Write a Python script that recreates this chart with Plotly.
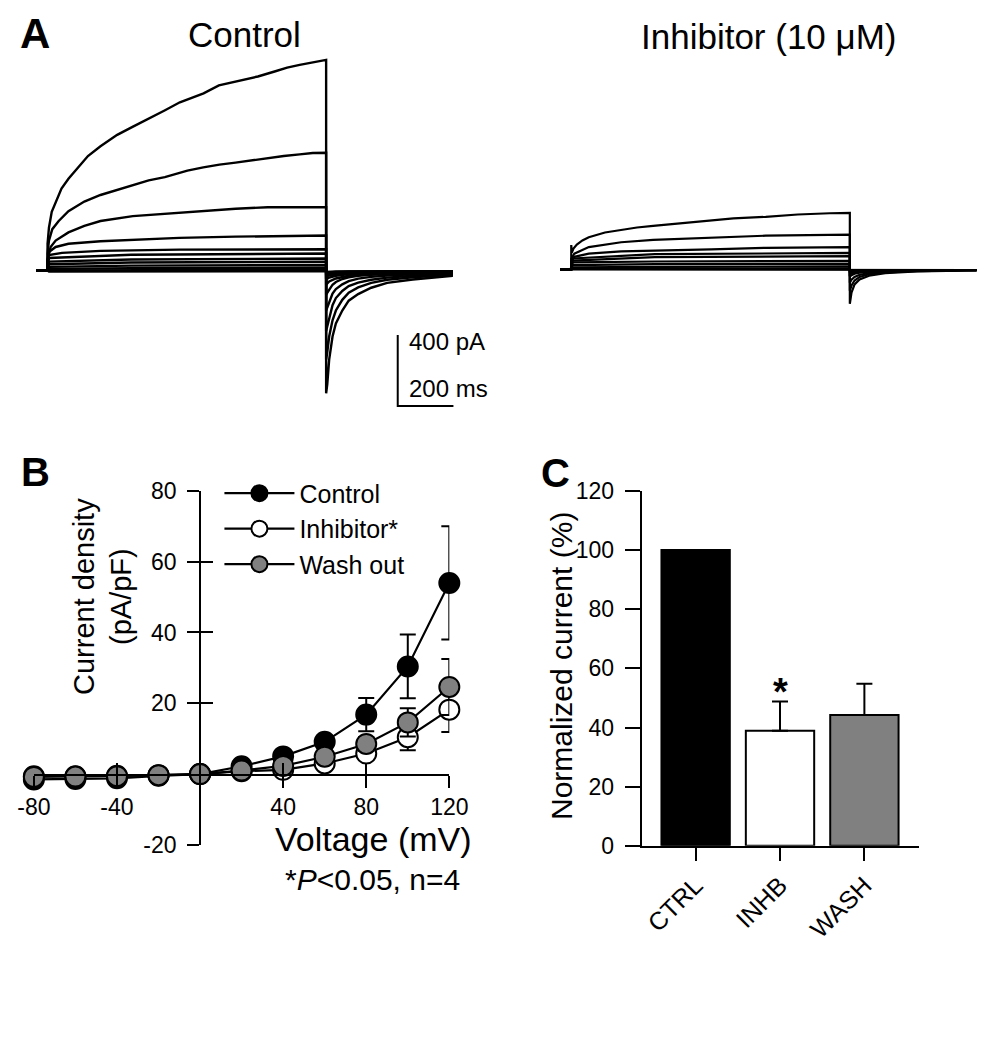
import plotly.graph_objects as go

FONT = "Arial, 'Liberation Sans', Helvetica, sans-serif"
W, H = 998, 1050

# ---------------- Panel A : current traces (t in ms, I in pA) ----------------
HOLD_T = [-40, 0]
HOLD_I = [0, 0]

CTRL1_T = [0, 0, 5, 15, 30, 50, 75, 110, 145, 190, 250, 305, 365, 420, 475, 515, 560, 615, 675, 755, 815, 860, 905, 950, 1000]
CTRL1_I = [0, 150, 240, 330, 387, 460, 515, 579, 643, 698, 762, 807, 853, 899, 945, 970, 995, 1040, 1063, 1090, 1118, 1140, 1155, 1169, 1183]
CTRL2_T = [0, 0, 5, 17, 40, 75, 132, 190, 248, 306, 363, 421, 473, 502, 559, 617, 675, 721, 790, 848, 905, 952, 1000]
CTRL2_I = [0, 95, 168, 232, 278, 333, 387, 424, 451, 479, 506, 524, 545, 561, 579, 595, 606, 616, 632, 643, 652, 660, 661]
CTRL3_T = [0, 0, 11, 29, 75, 132, 190, 306, 421, 473, 559, 675, 790, 905, 1000]
CTRL3_I = [0, 59, 132, 168, 214, 250, 278, 305, 318, 325, 333, 347, 355, 355, 355]
CTRL4_T = [0, 0, 5, 29, 75, 190, 306, 473, 675, 1000]
CTRL4_I = [0, 60, 104, 132, 150, 164, 172, 183, 190, 196]
CTRL5_T = [0, 0, 5, 52, 190, 473, 1000]
CTRL5_I = [0, 50, 86, 99, 110, 117, 119]
SMALL_T = [0, 5, 300, 1000]
CTRL_SMALL_I = [[0, 70, 88, 95], [0, 50, 62, 67], [0, 35, 45, 49], [0, 20, 27, 30],
                [0, 8, 13, 15], [0, 0, 3, 4], [0, -6, -5, -5]]

TAIL_T = [1000, 1004, 1011, 1023, 1035, 1058, 1081, 1115, 1162, 1219, 1311, 1424, 1455]
CTRL_TAIL1 = [-690, -640, -499, -371, -298, -225, -170, -133, -97, -70, -51, -33, -30]
CTRL_TAIL2 = [-500, -460, -370, -280, -225, -165, -125, -95, -70, -52, -38, -27, -25]
CTRL_TAIL3 = [-340, -315, -260, -195, -155, -115, -88, -68, -52, -40, -30, -22, -20]
CTRL_TAIL4 = [-225, -210, -175, -130, -105, -78, -60, -46, -36, -28, -22, -17, -16]
CTRL_TAIL5 = [-135, -125, -105, -80, -65, -48, -38, -30, -24, -19, -15, -12, -12]
SMALL_TAIL_T = [1000, 1011, 1035, 1081, 1162, 1311, 1455]
CTRL_SMALL_TAIL = [[-80, -62, -45, -30, -20, -13, -10], [-50, -40, -30, -20, -14, -10, -8],
                   [-35, -28, -22, -15, -11, -8, -7], [-25, -20, -15, -11, -8, -6, -5],
                   [-18, -15, -11, -8, -6, -5, -4], [-12, -10, -8, -6, -5, -4, -4],
                   [-8, -7, -6, -5, -4, -4, -4]]

INH1_T = [0, 0, 2, 8, 20, 40, 63, 121, 179, 236, 294, 352, 409, 502, 582, 698, 813, 928, 1000]
INH1_I = [0, 137, 95, 118, 140, 163, 181, 208, 223, 236, 245, 254, 263, 276, 287, 296, 309, 316, 318]
INH2_T = [0, 0, 11, 63, 179, 294, 467, 698, 1000]
INH2_I = [0, 60, 89, 126, 153, 166, 177, 190, 196]
INH3_T = [0, 0, 11, 63, 179, 502, 698, 1000]
INH3_I = [0, 45, 71, 89, 102, 113, 122, 126]
INH_SMALL_I = [[0, 62, 86, 93], [0, 50, 70, 75], [0, 40, 45, 48], [0, 25, 30, 32],
               [0, 12, 15, 17], [0, 3, 5, 6], [0, -3, -3, -3]]
INH_TAIL_T = [1000, 1006, 1017, 1035, 1069, 1127, 1241, 1414, 1455]
INH_TAIL1 = [-193, -130, -84, -56, -35, -20, -11, -5, -5]
INH_TAIL2 = [-120, -90, -62, -42, -27, -16, -9, -5, -5]
INH_TAIL3 = [-75, -58, -42, -30, -20, -12, -7, -4, -4]
INH_SMALL_TAIL = [[-40, -32, -24, -18, -12, -8, -5, -4, -4], [-25, -20, -16, -12, -9, -6, -4, -3, -3],
                  [-12, -10, -8, -7, -5, -4, -3, -3, -3], [-6, -5, -4, -4, -3, -3, -3, -3, -3],
                  [-4, -4, -3, -3, -3, -3, -3, -3, -3], [-3, -3, -3, -3, -3, -3, -3, -3, -3],
                  [-3, -3, -3, -3, -3, -3, -3, -3, -3]]

SCALE_T = 200   # ms
SCALE_I = 400   # pA

# ---------------- Panel B : I-V relationship ----------------
VOLT = [-80, -60, -40, -20, 0, 20, 40, 60, 80, 100, 120]
IV_CTRL = [-1.5, -1.4, -1.2, -0.5, 0, 2.2, 5.0, 9.1, 16.8, 30.4, 54.0]
IV_CTRL_SEM = [0.5, 0.5, 0.5, 0.3, 0, 0.5, 1.0, 1.8, 4.7, 9.0, 16.0]
IV_INH = [-0.6, -0.6, -0.5, -0.3, 0, 0.8, 1.2, 3.0, 5.8, 10.4, 18.2]
IV_INH_SEM = [0.3, 0.3, 0.3, 0.2, 0, 0.3, 0.5, 0.8, 1.8, 3.7, 6.3]
IV_WASH = [-0.8, -0.7, -0.6, -0.3, 0, 1.0, 2.3, 4.9, 8.5, 14.6, 24.6]
IV_WASH_SEM = [0.4, 0.4, 0.3, 0.2, 0, 0.3, 0.6, 1.0, 2.0, 4.0, 7.9]
B_XTICKS = [-80, -40, 40, 80, 120]
B_YTICKS = [-20, 20, 40, 60, 80]

# ---------------- Panel C : normalized current ----------------
CATS = ["CTRL", "INHB", "WASH"]
NORM = [100, 38.9, 44.2]
NORM_ERR = [0, 9.9, 10.6]

GRAY = "#808080"


def fx(p):
    return p / W


def fy(p):
    return 1 - p / H


fig = go.Figure()


def add_sweep(t, i, xa, ya, width=2.4):
    fig.add_trace(go.Scatter(x=t, y=i, mode="lines", line=dict(color="black", width=width),
                             xaxis=xa, yaxis=ya, showlegend=False, hoverinfo="skip"))


ctrl_big = [(CTRL1_T, CTRL1_I, CTRL_TAIL1), (CTRL2_T, CTRL2_I, CTRL_TAIL2),
            (CTRL3_T, CTRL3_I, CTRL_TAIL3), (CTRL4_T, CTRL4_I, CTRL_TAIL4),
            (CTRL5_T, CTRL5_I, CTRL_TAIL5)]
for st, si, tl in ctrl_big:
    add_sweep(HOLD_T + st + TAIL_T, HOLD_I + si + tl, "x", "y")
for si, tl in zip(CTRL_SMALL_I, CTRL_SMALL_TAIL):
    add_sweep(HOLD_T + SMALL_T + SMALL_TAIL_T, HOLD_I + si + tl, "x", "y")

SB_T0, SB_I0 = 1257, -762
fig.add_trace(go.Scatter(x=[SB_T0, SB_T0, SB_T0 + SCALE_T], y=[SB_I0 + SCALE_I, SB_I0, SB_I0],
                         mode="lines", line=dict(color="black", width=2), xaxis="x", yaxis="y",
                         showlegend=False, hoverinfo="skip"))

inh_big = [(INH1_T, INH1_I, INH_TAIL1), (INH2_T, INH2_I, INH_TAIL2), (INH3_T, INH3_I, INH_TAIL3)]
for st, si, tl in inh_big:
    add_sweep(HOLD_T + st + INH_TAIL_T, HOLD_I + si + tl, "x2", "y2", 2.2)
for si, tl in zip(INH_SMALL_I, INH_SMALL_TAIL):
    add_sweep(HOLD_T + SMALL_T + INH_TAIL_T, HOLD_I + si + tl, "x2", "y2", 2.2)

series = [("Control", IV_CTRL, IV_CTRL_SEM, "black"),
          ("Inhibitor*", IV_INH, IV_INH_SEM, "white"),
          ("Wash out", IV_WASH, IV_WASH_SEM, GRAY)]
for name, yv, ev, col in series:
    fig.add_trace(go.Scatter(
        x=VOLT, y=yv, name=name, mode="lines+markers", xaxis="x3", yaxis="y3",
        line=dict(color="black", width=2.2),
        marker=dict(size=20, color=col, line=dict(color="black", width=2)),
        error_y=dict(type="data", array=ev, color="black", thickness=2, width=8),
        cliponaxis=False))
fig.add_trace(go.Scatter(x=[None], y=[None], xaxis="x4", yaxis="y4", showlegend=False, hoverinfo="skip"))

fig.add_trace(go.Bar(
    x=CATS, y=NORM, xaxis="x5", yaxis="y5", width=0.81, showlegend=False,
    marker=dict(color=["black", "white", GRAY], line=dict(color="black", width=2)),
    error_y=dict(type="data", symmetric=False, array=NORM_ERR, arrayminus=[0, 0, 0],
                 color="black", thickness=2, width=8)))

tickfont = dict(family=FONT, size=23, color="black")
ms_px, pa_px = 0.289, 0.1825

layout = dict(
    width=W, height=H, margin=dict(l=0, r=0, t=0, b=0),
    paper_bgcolor="white", plot_bgcolor="rgba(0,0,0,0)",
    font=dict(family=FONT, color="black"),
    xaxis=dict(domain=[0, fx(480)], range=[(0 - 31.7) / ms_px, (480 - 31.7) / ms_px], visible=False, anchor="y"),
    yaxis=dict(domain=[fy(420), fy(30)], range=[(264 - 420) / pa_px, (264 - 30) / pa_px], visible=False, anchor="x"),
    xaxis2=dict(domain=[fx(500), 1], range=[(500 - 575) / ms_px, (998 - 575) / ms_px], visible=False, anchor="y2"),
    yaxis2=dict(domain=[fy(420), fy(30)], range=[(263 - 420) / pa_px, (263 - 30) / pa_px], visible=False, anchor="x2"),
    xaxis3=dict(domain=[fx(17.5), fx(448.5)], range=[-80, 120], anchor="free", position=fy(781),
                showline=True, linewidth=2, linecolor="black", showgrid=False, zeroline=False,
                ticks="outside", ticklen=12, tickwidth=2, tickcolor="black",
                tickvals=B_XTICKS, ticktext=[str(v) for v in B_XTICKS], tickfont=tickfont,
                ticklabelstandoff=0),
    yaxis3=dict(domain=[fy(853), fy(490)], range=[-20, 80], anchor="free", position=fx(190),
                showline=True, linewidth=2, linecolor="black", showgrid=False, zeroline=False,
                ticks="outside", ticklen=12, tickwidth=2, tickcolor="black",
                tickvals=B_YTICKS, ticktext=[str(v) for v in B_YTICKS], tickfont=tickfont,
                ticklabelstandoff=6),
    xaxis4=dict(overlaying="x3", range=[-80, 120], anchor="free", position=fy(781),
                showline=False, showgrid=False, zeroline=False, ticks="inside", ticklen=12,
                tickwidth=2, tickcolor="black", tickvals=B_XTICKS, showticklabels=False),
    yaxis4=dict(overlaying="y3", range=[-20, 80], anchor="free", position=fx(190),
                showline=False, showgrid=False, zeroline=False, ticks="inside", ticklen=12,
                tickwidth=2, tickcolor="black", tickvals=B_YTICKS, showticklabels=False),
    xaxis5=dict(domain=[fx(648), fx(936)], range=[-0.64, 2.65], anchor="y5", type="category",
                showline=True, linewidth=2, linecolor="black", showgrid=False, zeroline=False,
                ticks="outside", ticklen=13, tickwidth=2, tickcolor="black", tickangle=-45,
                tickfont=dict(family=FONT, size=25, color="black")),
    yaxis5=dict(domain=[fy(854), fy(490)], range=[0, 120], anchor="x5",
                showline=True, linewidth=2, linecolor="black", showgrid=False, zeroline=False,
                ticks="outside", ticklen=15, tickwidth=2, tickcolor="black", dtick=20,
                tickfont=tickfont, ticklabelstandoff=6),
    legend=dict(x=fx(210), y=fy(469), xanchor="left", yanchor="top", bgcolor="rgba(0,0,0,0)",
                font=dict(family=FONT, size=25, color="black"), itemwidth=70),
    showlegend=True,
)
fig.update_layout(**layout)

ann = []


def paper_text(x, y, text, size, bold=False, angle=0, xanchor="center", yanchor="middle"):
    ann.append(dict(x=fx(x), y=fy(y), xref="paper", yref="paper", text=f"<b>{text}</b>" if bold else text,
                    showarrow=False, textangle=angle, xanchor=xanchor, yanchor=yanchor,
                    font=dict(family=FONT, size=size, color="black")))


paper_text(19, 21, "A", 42, bold=True)
paper_text(19, 471, "B", 40, bold=True)
paper_text(559, 472, "C", 40, bold=True)
paper_text(236, 22, "Control", 35)
paper_text(780, 24, "Inhibitor (10 μM)", 35)
paper_text(89, 598, "Current density<br>(pA/pF)", 29, angle=-90)
paper_text(370, 847, "Voltage (mV)", 34)
paper_text(369, 889, "*<i>P</i>&lt;0.05, n=4", 30)
paper_text(565, 670, "Normalized current (%)", 30, angle=-90)

for txt, iv in [(f"{SCALE_I} pA", SB_I0 + SCALE_I - 35), (f"{SCALE_T} ms", SB_I0 + 100)]:
    ann.append(dict(x=SB_T0 + 35, y=iv, xref="x", yref="y", text=txt, showarrow=False,
                    xanchor="left", yanchor="middle", font=dict(family=FONT, size=24, color="black")))

ann.append(dict(x="INHB", y=NORM[1] + NORM_ERR[1], xref="x5", yref="y5", text="<b>*</b>",
                showarrow=False, xanchor="center", yanchor="bottom", yshift=-14,
                font=dict(family=FONT, size=38, color="black")))

fig.update_layout(annotations=ann)
fig.write_html("out.html", config={"displayModeBar": False},
               post_script="document.body.style.margin='0px';document.body.style.overflow='hidden';")
